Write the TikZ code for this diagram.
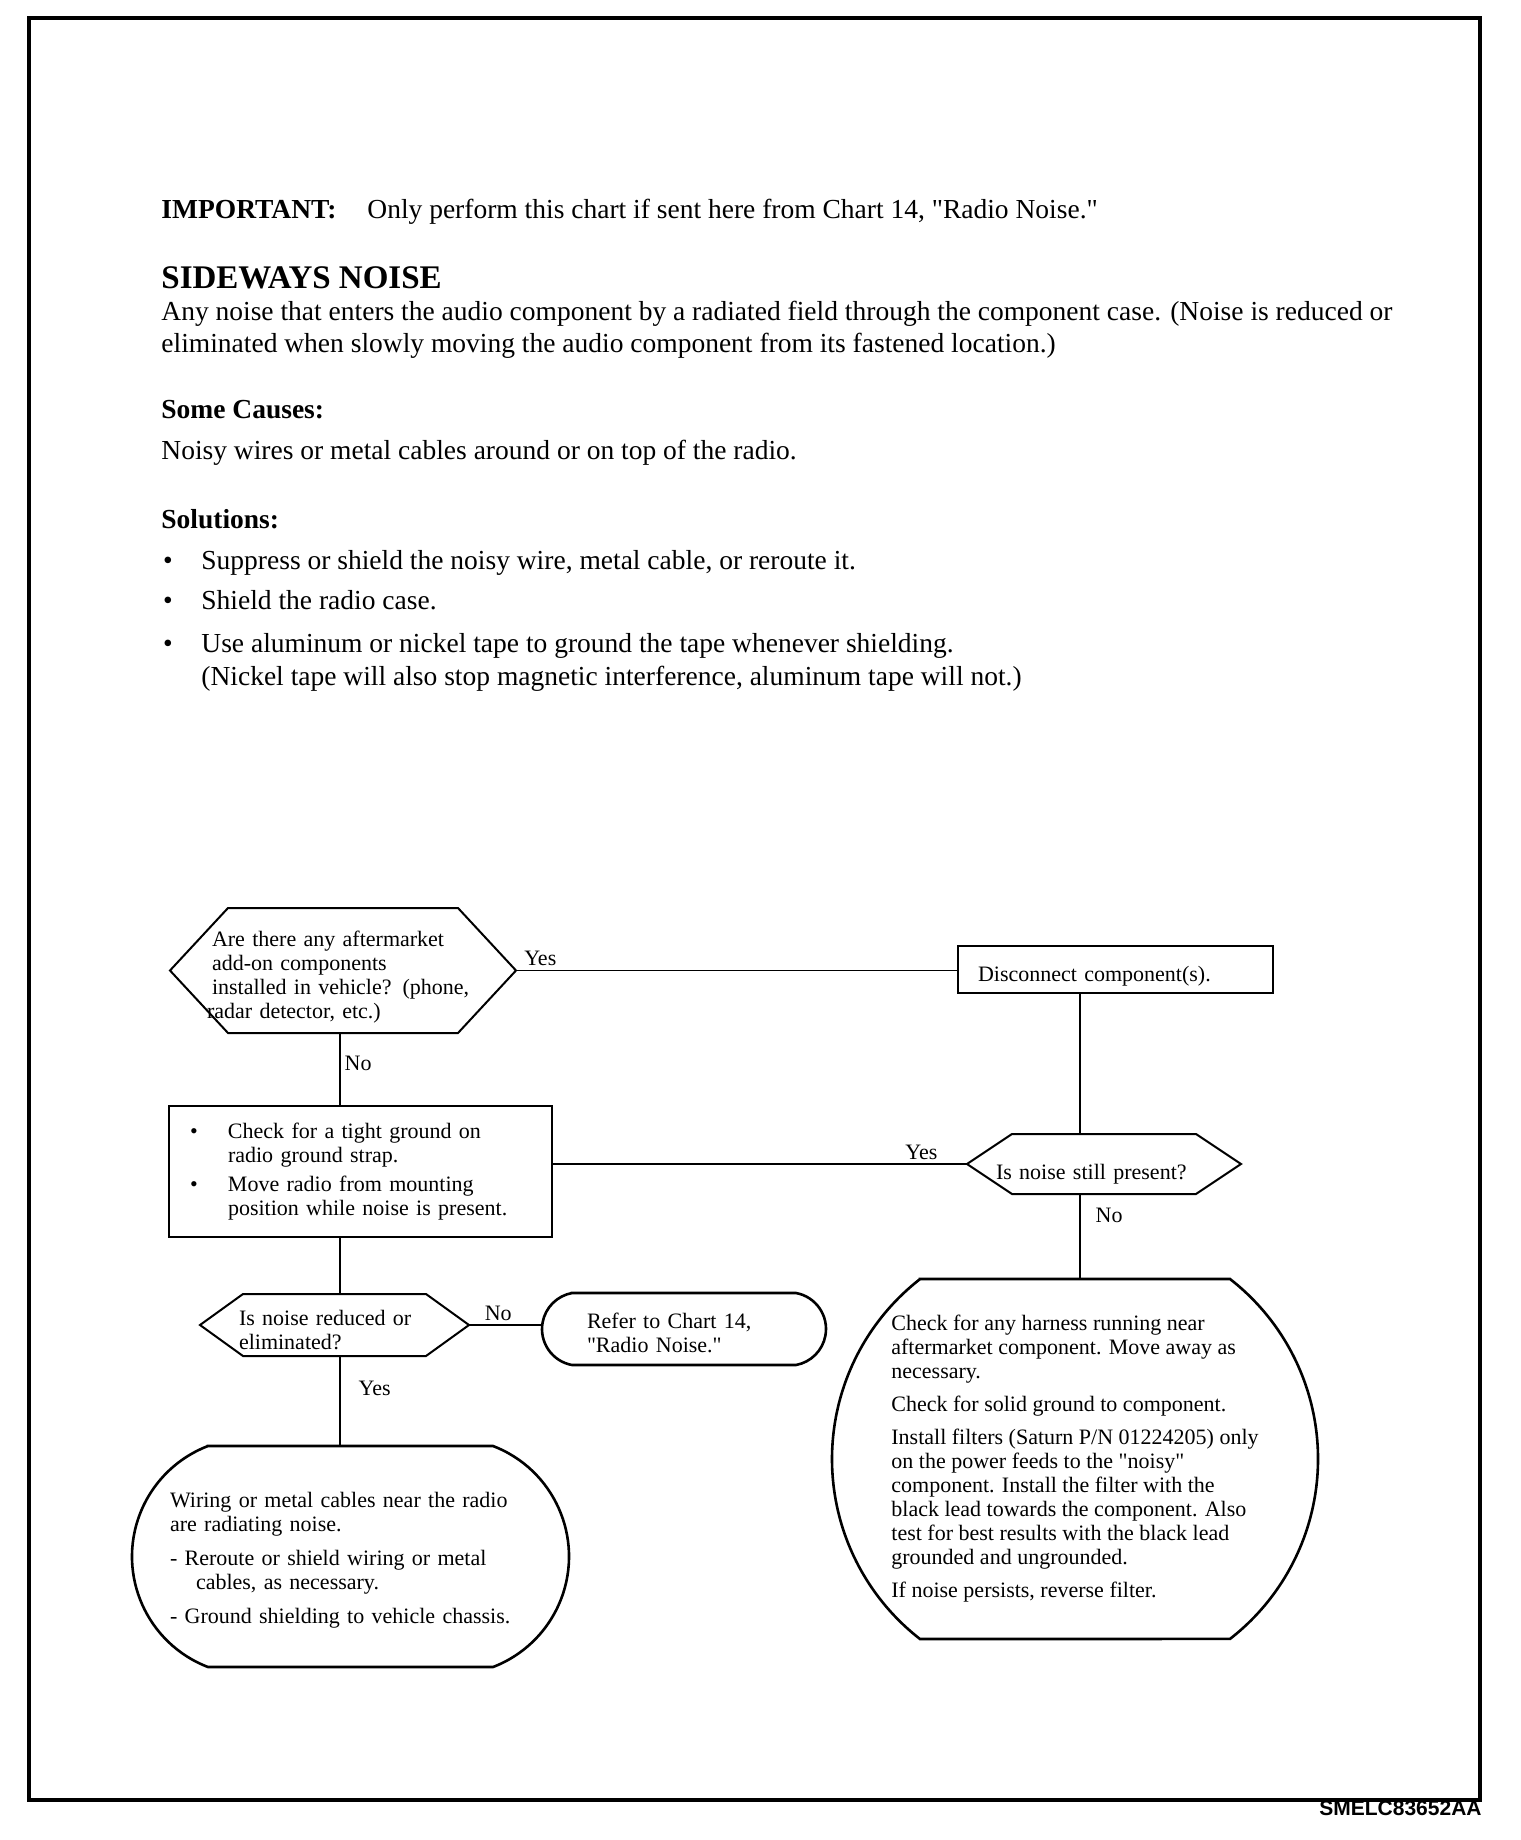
\documentclass[tikz,border=0pt]{standalone}
\usepackage{fontspec}
\setmainfont{Liberation Serif}[Ligatures=TeXOff]
\newfontfamily\codefont{Liberation Sans}
\usepackage{xcolor}
\usepackage{tikz}
\definecolor{snInk}{HTML}{000000}
\tikzset{
  flowtext/.style={font=\fontsize{11}{12}\selectfont, align=left, inner sep=0pt, outer sep=0pt},
  decision/.style={flowtext, rectangle},
  action/.style={flowtext, rectangle, draw=snInk, line width=1pt},
  outcome/.style={flowtext, rectangle},
  hexline/.style={draw=snInk, line width=1pt, line join=miter},
  capline/.style={draw=snInk, line width=1.3pt},
  link/.style={draw=snInk, line width=0.7pt},
  answer/.style={font=\fontsize{11}{12}\selectfont, inner sep=2pt},
  hdrtext/.style={font=\fontsize{13.75}{16}\selectfont, anchor=base west, inner sep=0pt},
  hdrbold/.style={hdrtext, font=\fontsize{13.75}{16}\selectfont\bfseries},
  hdrhead/.style={hdrtext, font=\fontsize{16.5}{19}\selectfont\bfseries},
  frame/.style={draw=snInk, line width=1.6pt},
  figtag/.style={font=\codefont\fontsize{10.5}{12}\selectfont\bfseries, anchor=base east, inner sep=0pt}
}
\begin{document}
\begin{tikzpicture}[x=0.5pt, y=-0.5pt]
  \useasboundingbox (0,0) rectangle (1520,1840);
  \draw[frame] (29,18) rectangle (1480,1800);
  \node[figtag] (figid) at (1482,1815) {SMELC83652AA};

  % header text
  \node[hdrbold] (imp) at (161,219) {IMPORTANT:};
  \node[hdrtext] (impnote) at (367,219) {Only perform this chart if sent here from Chart 14, "Radio Noise."};
  \node[hdrhead] (title) at (161,289) {SIDEWAYS NOISE};
  \node[hdrtext] (def1) at (161,321) {Any noise that enters the audio component by a radiated field through the component case. (Noise is reduced or};
  \node[hdrtext] (def2) at (161,353) {eliminated when slowly moving the audio component from its fastened location.)};
  \node[hdrbold] (causes) at (161,418) {Some Causes:};
  \node[hdrtext] (cause1) at (161,459) {Noisy wires or metal cables around or on top of the radio.};
  \node[hdrbold] (sols) at (161,528) {Solutions:};
  \foreach \i/\y/\t in {1/569/{Suppress or shield the noisy wire, metal cable, or reroute it.}, 2/609/{Shield the radio case.}, 3/652/{Use aluminum or nickel tape to ground the tape whenever shielding.}}{
    \node[hdrtext, anchor=base] (dot\i) at (168,\y) {\textbullet};
    \node[hdrtext] (sol\i) at (201,\y) {\t};
  }
  \node[hdrtext] (sol3b) at (201,685) {(Nickel tape will also stop magnetic interference, aluminum tape will not.)};

  % flowchart
  \node[decision, minimum width=173pt, minimum height=62.5pt, text width=131pt, text height=14.5pt, text depth=38.4pt] (q1) at (343,970.5) {Are there any aftermarket\\add-on components\\installed in vehicle? (phone,\\\hspace*{-2.5pt}radar detector, etc.)};
  \node[action, minimum width=157.5pt, minimum height=23.5pt, text width=137.5pt, text height=14.6pt, text depth=2.4pt] (dc) at (1115.5,969.5) {Disconnect component(s).};
  \node[decision, minimum width=137pt, minimum height=30pt, text width=108pt, text height=18.1pt, text depth=2.4pt] (q2) at (1104,1164) {Is noise still present?};
  \node[action, minimum width=191.5pt, minimum height=65.5pt, text width=170.5pt] (chk) at (360.5,1171.5) {\makebox[19pt][l]{\textbullet}Check for a tight ground on\\\hspace*{19pt}radio ground strap.\\[2.5pt]\makebox[19pt][l]{\textbullet}Move radio from mounting\\\hspace*{19pt}position while noise is present.};
  \node[decision, minimum width=134.5pt, minimum height=31pt, text width=95.5pt, text height=12.5pt, text depth=12pt] (q3) at (334.5,1325) {Is noise reduced or\\eliminated?};
  \node[outcome, minimum width=142pt, minimum height=36pt, text width=97pt, text height=11.5pt, text depth=12pt] (ref) at (684,1329) {Refer to Chart 14,\\"Radio Noise."};
  \node[outcome, minimum width=218.5pt, minimum height=110.5pt, text width=180.5pt, text height=11pt, text depth=60.4pt] (bl) at (350.5,1556.5) {Wiring or metal cables near the radio\\are radiating noise.\\[5pt]- Reroute or shield wiring or metal\\\hspace*{13pt}cables, as necessary.\\[5pt]- Ground shielding to vehicle chassis.};
  \node[outcome, minimum width=243pt, minimum height=180pt] (fix) at (1075,1459) {Check for any harness running near\\aftermarket component. Move away as\\necessary.\\[4.5pt]Check for solid ground to component.\\[4.5pt]Install filters (Saturn P/N 01224205) only\\on the power feeds to the "noisy"\\component. Install the filter with the\\black lead towards the component. Also\\test for best results with the black lead\\grounded and ungrounded.\\[4.5pt]If noise persists, reverse filter.};

  % outlines
  \foreach \q/\e in {q1/29pt, q2/22.5pt, q3/21.5pt}
    \draw[hexline] (\q.west) -- ([xshift=\e]\q.north west) -- ([xshift=-\e]\q.north east) -- (\q.east) -- ([xshift=-\e]\q.south east) -- ([xshift=\e]\q.south west) -- cycle;
  \foreach \o/\e/\r/\a in {ref/15pt/18.3pt/79.6, bl/38pt/59.17pt/69.03, fix/44pt/114pt/52.12}
    \draw[capline] ([xshift=\e]\o.north west) -- ([xshift=-\e]\o.north east) arc[start angle=\a, end angle=-\a, radius=\r] -- ([xshift=\e]\o.south west) arc[start angle=180+\a, end angle=180-\a, radius=\r] -- cycle;

  % connectors
  \coordinate (lspine) at (340,0);
  \coordinate (rspine) at (1080,0);
  \draw[link] (q1.east) -- node[answer, pos=0.055, above] (yes1) {Yes} (q1.east -| dc.west);
  \draw[link] (q1.south -| lspine) -- node[answer, pos=0.41, right] (no1) {No} (chk.north -| lspine);
  \draw[link] (dc.south -| rspine) -- (q2.north -| rspine);
  \draw[link] (chk.east |- q2.west) -- node[answer, pos=0.89, above] (yes2) {Yes} (q2.west);
  \draw[link] (q2.south -| rspine) -- node[answer, pos=0.25, right, xshift=5.5pt] (no2) {No} (fix.north -| rspine);
  \draw[link] (chk.south -| lspine) -- (q3.north -| lspine);
  \draw[link] (q3.east) -- node[answer, pos=0.4, above] (no3) {No} (q3.east -| ref.west);
  \draw[link] (q3.south -| lspine) -- node[answer, pos=0.36, right, xshift=7pt] (yes3) {Yes} (bl.north -| lspine);
\end{tikzpicture}
\end{document}
